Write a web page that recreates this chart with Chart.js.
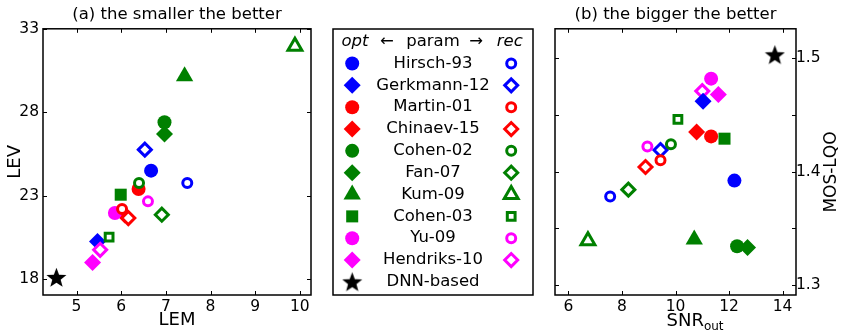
<!DOCTYPE html>
<html>
<head>
<meta charset="utf-8">
<script src="https://cdn.jsdelivr.net/npm/chart.js@4.4.0/dist/chart.umd.min.js"></script>
<style>
  body { margin: 0; background: #fff; width: 842px; height: 331px; overflow: hidden; position: relative; }
  .pane { position: absolute; top: 0; height: 331px; }
</style>
</head>
<body>
<div class="pane" style="left:0;width:322px"><canvas id="left"></canvas></div>
<div class="pane" style="left:322px;width:222px"><canvas id="legend"></canvas></div>
<div class="pane" style="left:544px;width:298px"><canvas id="right"></canvas></div>
<script>
// methods, in legend order
var methods = ["Hirsch-93", "Gerkmann-12", "Martin-01", "Chinaev-15", "Cohen-02",
  "Fan-07", "Kum-09", "Cohen-03", "Yu-09", "Hendriks-10"];
var methodColors = ["#0000ff", "#0000ff", "#ff0000", "#ff0000", "#008000",
  "#008000", "#008000", "#008000", "#ff00ff", "#ff00ff"];
var methodShapes = ["circle", "rectRot", "circle", "rectRot", "circle",
  "rectRot", "triangle", "rect", "circle", "rectRot"];

// (a) LEM / LEV
var lemOpt = [6.67, 5.47, 6.39, 6.08, 6.97, 6.97, 7.42, 5.99, 5.86, 5.36];
var levOpt = [24.5, 20.26, 23.4, 21.85, 27.4, 26.7, 30.15, 23.06, 21.96, 19.0];
var lemRec = [7.48, 6.53, 6.02, 6.16, 6.40, 6.91, 9.89, 5.73, 6.60, 5.53];
var levRec = [23.76, 25.76, 22.2, 21.66, 23.76, 21.86, 31.95, 20.52, 22.66, 19.76];
var lemDnn = 4.55, levDnn = 18.1;

// (b) SNRout / MOS-LQO
var snrOpt = [12.2, 11.03, 11.33, 10.79, 12.3, 12.69, 10.70, 11.83, 11.33, 11.6];
var mosOpt = [1.392, 1.462, 1.431, 1.435, 1.334, 1.333, 1.34, 1.429, 1.482, 1.468];
var snrRec = [7.56, 9.44, 9.44, 8.88, 9.83, 8.24, 6.73, 10.09, 8.95, 11.0];
var mosRec = [1.378, 1.419, 1.41, 1.404, 1.424, 1.384, 1.339, 1.446, 1.422, 1.471];
var snrDnn = 13.71, mosDnn = 1.503;

var lemTicks = [5, 6, 7, 8, 9, 10];
var levTicks = [18, 23, 28, 33];
var snrTicks = [6, 8, 10, 12, 14];
var mosTicks = [1.3, 1.35, 1.4, 1.45, 1.5];
var mosTickLabels = ["1.3", "", "1.4", "", "1.5"];

var filledRadius = { circle: 7, rectRot: 8.5, triangle: 10, rect: 8.5 };
var hollowRadius = { circle: 4.5, rectRot: 6.5, triangle: 8, rect: 5.5 };

Chart.defaults.font.family = "'DejaVu Sans', sans-serif";
Chart.defaults.color = "#000";

function makeStar(size, color) {
  var c = document.createElement("canvas");
  c.width = size; c.height = size;
  var g = c.getContext("2d");
  var R = size / 2, r = R * 0.42, cx = size / 2, cy = size / 2 + R * 0.08;
  g.beginPath();
  for (var i = 0; i < 10; i++) {
    var a = -Math.PI / 2 + i * Math.PI / 5;
    var rr = i % 2 ? r : R;
    g.lineTo(cx + rr * Math.cos(a), cy + rr * Math.sin(a));
  }
  g.closePath();
  g.fillStyle = color;
  g.fill();
  return c;
}
var starImg = makeStar(21, "#000");

function pts(xs, ys) {
  return xs.map(function (x, i) { return { x: x, y: ys[i] }; });
}

function markerSets(xo, yo, xr, yr, xd, yd, recOnTop) {
  return [
    {
      label: "opt", data: pts(xo, yo),
      pointStyle: methodShapes,
      pointRadius: methodShapes.map(function (s) { return filledRadius[s]; }),
      pointBackgroundColor: methodColors, pointBorderColor: methodColors, pointBorderWidth: 0,
      order: recOnTop ? 2 : 1
    },
    {
      label: "rec", data: pts(xr, yr),
      pointStyle: methodShapes,
      pointRadius: methodShapes.map(function (s) { return hollowRadius[s]; }),
      pointBackgroundColor: "#fff", pointBorderColor: methodColors, pointBorderWidth: 3,
      order: recOnTop ? 1 : 2
    },
    { label: "DNN-based", data: [{ x: xd, y: yd }], pointStyle: starImg, order: 0 }
  ];
}

// box round the plot area with inward ticks on all four sides
function framePlugin(withTicks) {
  return {
    id: "frame",
    afterDraw: function (chart) {
      var ctx = chart.ctx, a = chart.chartArea;
      ctx.save();
      ctx.strokeStyle = "#000";
      if (withTicks) {
        var xs = chart.scales.x, ys = chart.scales.y;
        ctx.lineWidth = 1;
        ctx.beginPath();
        xs.ticks.forEach(function (t) {
          var p = Math.round(xs.getPixelForValue(t.value)) + 0.5;
          ctx.moveTo(p, a.bottom); ctx.lineTo(p, a.bottom - 4);
          ctx.moveTo(p, a.top); ctx.lineTo(p, a.top + 4);
        });
        ys.ticks.forEach(function (t) {
          var p = Math.round(ys.getPixelForValue(t.value)) + 0.5;
          ctx.moveTo(a.left, p); ctx.lineTo(a.left + 4, p);
          ctx.moveTo(a.right, p); ctx.lineTo(a.right - 4, p);
        });
        ctx.stroke();
      }
      ctx.lineWidth = 1.5;
      ctx.strokeRect(a.left, a.top, a.right - a.left, a.bottom - a.top);
      ctx.restore();
    }
  };
}

function fixedTicks(list) {
  return function (scale) {
    scale.ticks = list.map(function (v) { return { value: v }; });
  };
}

function titleOpts(text) {
  return {
    display: true, text: text, fullSize: false,
    font: { size: 16.5, weight: "normal" },
    padding: { top: 5, bottom: 4 }
  };
}

// (a)
new Chart(document.getElementById("left"), {
  type: "scatter",
  data: { datasets: markerSets(lemOpt, levOpt, lemRec, levRec, lemDnn, levDnn, true) },
  options: {
    responsive: true, maintainAspectRatio: false, animation: false, events: [],
    layout: { padding: { left: 0, right: 4, top: 0, bottom: 0 } },
    plugins: { legend: { display: false }, tooltip: { enabled: false }, title: titleOpts("(a) the smaller the better") },
    scales: {
      x: {
        type: "linear", min: 4.25, max: 10.25,
        afterBuildTicks: fixedTicks(lemTicks),
        afterFit: function (s) { s.height = 36; },
        grid: { display: false, drawTicks: false }, border: { display: false },
        ticks: { font: { size: 15.5 }, padding: 3 },
        title: { display: true, text: "LEM", font: { size: 18 }, padding: { top: 0, bottom: 0 } }
      },
      y: {
        type: "linear", min: 17.05, max: 33,
        afterBuildTicks: fixedTicks(levTicks),
        afterFit: function (s) { s.width = 43; },
        grid: { display: false, drawTicks: false }, border: { display: false },
        ticks: { font: { size: 15.5 }, padding: 4 },
        title: { display: true, text: "LEV", font: { size: 18 }, padding: { top: 5, bottom: 0 } }
      }
    },
    datasets: { scatter: { clip: false } }
  },
  plugins: [framePlugin(true)]
});

// (b)
new Chart(document.getElementById("right"), {
  type: "scatter",
  data: { datasets: markerSets(snrOpt, mosOpt, snrRec, mosRec, snrDnn, mosDnn, false) },
  options: {
    responsive: true, maintainAspectRatio: false, animation: false, events: [],
    layout: { padding: { left: 3, right: 0, top: 0, bottom: 0 } },
    plugins: { legend: { display: false }, tooltip: { enabled: false }, title: titleOpts("(b) the bigger the better") },
    scales: {
      x: {
        type: "linear", min: 5.5, max: 14.5,
        afterBuildTicks: fixedTicks(snrTicks),
        afterFit: function (s) { s.height = 36; },
        grid: { display: false, drawTicks: false }, border: { display: false },
        ticks: { font: { size: 15.5 }, padding: 3 }
      },
      y: {
        type: "linear", position: "right", min: 1.291, max: 1.526,
        afterBuildTicks: fixedTicks(mosTicks),
        afterFit: function (s) { s.width = 46; },
        grid: { display: false, drawTicks: false }, border: { display: false },
        ticks: { font: { size: 15.5 }, padding: 0, callback: function (v, i) { return mosTickLabels[i]; } }
      }
    },
    datasets: { scatter: { clip: false } }
  },
  plugins: [framePlugin(true), {
    id: "axisNames",
    afterDraw: function (chart) {
      var ctx = chart.ctx, a = chart.chartArea, ys = chart.scales.y;
      ctx.save();
      ctx.fillStyle = "#000";
      // SNR_out
      ctx.textBaseline = "alphabetic";
      ctx.textAlign = "left";
      ctx.font = "18px 'DejaVu Sans'";
      var x0 = (a.left + a.right) / 2 - 9;
      ctx.fillText("SNR", x0, 326);
      var w = ctx.measureText("SNR").width;
      ctx.font = "12px 'DejaVu Sans'";
      ctx.fillText("out", x0 + w, 329.5);
      // MOS-LQO, reading upwards
      ctx.translate(ys.right - 10, 172);
      ctx.rotate(-Math.PI / 2);
      ctx.textAlign = "center";
      ctx.textBaseline = "middle";
      ctx.font = "17px 'DejaVu Sans'";
      ctx.fillText("MOS-LQO", 0, 0);
      ctx.restore();
    }
  }]
});

// legend: opt marker | name | rec marker
var legendNames = methods.concat(["DNN-based"]);
var optCol = 0.096, recCol = 0.891;
new Chart(document.getElementById("legend"), {
  type: "scatter",
  data: {
    datasets: [
      {
        data: legendNames.map(function (n, i) { return { x: optCol, y: i + 1 }; }),
        pointStyle: methodShapes.concat([starImg]),
        pointRadius: methodShapes.map(function (s) { return filledRadius[s]; }).concat([10]),
        pointBackgroundColor: methodColors.concat(["#000"]),
        pointBorderWidth: 0
      },
      {
        data: methods.map(function (n, i) { return { x: recCol, y: i + 1 }; }),
        pointStyle: methodShapes,
        pointRadius: methodShapes.map(function (s) { return hollowRadius[s]; }),
        pointBackgroundColor: "#fff", pointBorderColor: methodColors, pointBorderWidth: 3
      }
    ]
  },
  options: {
    responsive: true, maintainAspectRatio: false, animation: false, events: [],
    layout: { padding: { left: 2, right: 2, top: 29, bottom: 36 } },
    plugins: { legend: { display: false }, tooltip: { enabled: false } },
    scales: {
      x: { display: false, min: 0, max: 1 },
      y: { display: false, min: -0.58, max: 11.6, reverse: true }
    }
  },
  plugins: [framePlugin(false), {
    id: "legendText",
    afterDraw: function (chart) {
      var ctx = chart.ctx, xs = chart.scales.x, ys = chart.scales.y;
      ctx.save();
      ctx.fillStyle = "#000";
      ctx.textAlign = "center";
      ctx.textBaseline = "middle";
      var hy = ys.getPixelForValue(0);
      ctx.font = "italic 16.5px 'DejaVu Sans'";
      ctx.fillText("opt", xs.getPixelForValue(0.11), hy);
      ctx.fillText("rec", xs.getPixelForValue(0.884), hy);
      ctx.font = "16.5px 'DejaVu Sans'";
      ctx.fillText("\u2190", xs.getPixelForValue(0.27), hy);
      ctx.fillText("param", xs.getPixelForValue(0.5), hy);
      ctx.fillText("\u2192", xs.getPixelForValue(0.716), hy);
      legendNames.forEach(function (n, i) {
        ctx.fillText(n, xs.getPixelForValue(0.5), ys.getPixelForValue(i + 1));
      });
      ctx.restore();
    }
  }]
});
</script>
</body>
</html>
